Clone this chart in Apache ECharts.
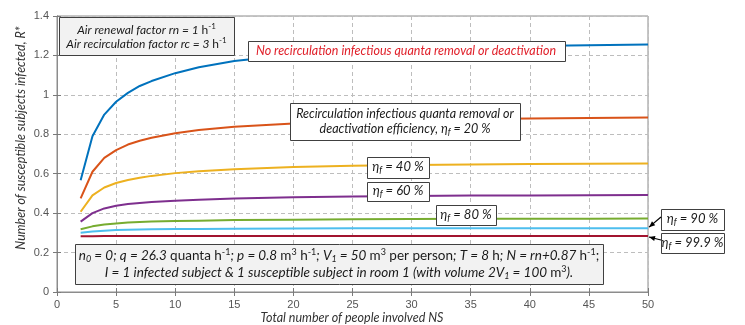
<!DOCTYPE html>
<html><head><meta charset="utf-8">
<script src="https://cdn.jsdelivr.net/npm/echarts@6/dist/echarts.min.js"></script>
<style>html,body{margin:0;padding:0;background:#fff}#c{width:745px;height:325px}</style>
</head><body><div id="c"></div>
<script>
// ---- data ----
const ns = [2,3,4,5,6,7,8,10,12,15,20,25,30,35,40,45,50];
const rNoRecirc = [0.567,0.79,0.90,0.965,1.01,1.045,1.07,1.11,1.14,1.172,1.203,1.222,1.234,1.242,1.248,1.252,1.256];
const rEta20 = [0.475,0.61,0.68,0.72,0.748,0.767,0.782,0.805,0.822,0.838,0.855,0.865,0.872,0.877,0.88,0.883,0.885];
const rEta40 = [0.407,0.49,0.53,0.553,0.568,0.58,0.589,0.603,0.613,0.623,0.634,0.640,0.644,0.647,0.649,0.651,0.652];
const rEta60 = [0.357,0.40,0.424,0.437,0.446,0.452,0.456,0.463,0.468,0.474,0.48,0.484,0.487,0.489,0.49,0.491,0.492];
const rEta80 = [0.318,0.333,0.342,0.348,0.352,0.355,0.357,0.36,0.362,0.365,0.367,0.369,0.370,0.371,0.372,0.372,0.373];
const rEta90 = [0.301,0.307,0.311,0.314,0.316,0.317,0.318,0.319,0.320,0.321,0.322,0.323,0.323,0.324,0.324,0.324,0.324];
const rEta999 = [0.283,0.283,0.284,0.284,0.284,0.284,0.284,0.284,0.284,0.284,0.284,0.284,0.284,0.284,0.284,0.284,0.284];
const xTicks = [0,5,10,15,20,25,30,35,40,45,50];
const yTicks = [0,0.2,0.4,0.6,0.8,1,1.2,1.4];

const seriesList = [
  {name:'no', data:rNoRecirc, color:'#0072BD'},
  {name:'20', data:rEta20, color:'#D95319'},
  {name:'40', data:rEta40, color:'#EDB120'},
  {name:'60', data:rEta60, color:'#7E2F8E'},
  {name:'80', data:rEta80, color:'#77AC30'},
  {name:'90', data:rEta90, color:'#4DBEEE'},
  {name:'99.9', data:rEta999, color:'#A2142F'}
];

const FF = 'Lato, "Open Sans", sans-serif';
const LF = '"Liberation Sans", Arial, sans-serif';
const chart = echarts.init(document.getElementById('c'), null, {renderer:'canvas'});

function rich(fs, color){
  const lh = fs + 6;
  return {
    i:{fontStyle:'italic', fontSize:fs, fontFamily:FF, color:color, lineHeight:lh},
    n:{fontStyle:'normal', fontSize:fs, fontFamily:FF, color:color, lineHeight:lh},
    sb:{fontStyle:'italic', fontSize:Math.round(fs*0.7), fontFamily:FF, color:color, padding:[Math.round(fs*0.55),0,0,0], lineHeight:lh},
    sp:{fontStyle:'normal', fontSize:Math.round(fs*0.7), fontFamily:FF, color:color, padding:[0,0,Math.round(fs*0.6),0], lineHeight:lh}
  };
}
function textEl(x, y, str, fs, color){
  return {type:'text', z:20, x:x, y:y, style:{text:str, rich:rich(fs,color||'#1a1a1a'), align:'center', verticalAlign:'middle', fontFamily:FF, fontSize:fs, fill:color||'#1a1a1a'}};
}
function boxEl(x1,y1,x2,y2,fill){
  return {type:'rect', z:19, shape:{x:x1+0.5,y:y1+0.5,width:x2-x1,height:y2-y1}, style:{fill:fill, stroke:'#404040', lineWidth:1}};
}
const axisCommon = {
  axisLine:{show:true, lineStyle:{color:'#8c8c8c'}},
  axisTick:{show:true, inside:true, length:4, lineStyle:{color:'#7a7a7a'}}
};
const mirror = {
  axisLine:{show:true, lineStyle:{color:'#8c8c8c'}},
  axisTick:{show:true, inside:true, length:4, lineStyle:{color:'#7a7a7a'}},
  axisLabel:{show:false}, splitLine:{show:false}
};

const option = {
  animation:false,
  grid:{left:57, right:97, top:16, bottom:33, show:true, borderColor:'#8c8c8c', borderWidth:1, backgroundColor:'transparent'},
  xAxis:[Object.assign({type:'value', min:0, max:50, interval:5, position:'bottom',
    axisLabel:{color:'#555', fontSize:11, fontFamily:LF, margin:7},
    splitLine:{show:true, lineStyle:{color:'#bdbdbd', type:[4,3], width:1}}}, axisCommon),
    Object.assign({type:'value', min:0, max:50, interval:5, position:'top'}, mirror)],
  yAxis:[Object.assign({type:'value', min:0, max:1.4, interval:0.2, position:'left',
    axisLabel:{color:'#555', fontSize:11, fontFamily:LF, margin:8,
      formatter:v=>{const t=yTicks.find(k=>Math.abs(k-v)<1e-9); return t===undefined?'':String(t);}},
    splitLine:{show:true, lineStyle:{color:'#bdbdbd', type:[4,3], width:1}}}, axisCommon),
    Object.assign({type:'value', min:0, max:1.4, interval:0.2, position:'right'}, mirror)],
  series: seriesList.map(s=>({type:'line', name:s.name, xAxisIndex:0, yAxisIndex:0, data:ns.map((x,i)=>[x,s.data[i]]), showSymbol:false, symbol:'none',
    lineStyle:{color:s.color, width:2}, itemStyle:{color:s.color}, z:3}))
};
chart.setOption(option);

const end = v => chart.convertToPixel({xAxisIndex:0, yAxisIndex:0}, [50, v]);
const p90 = end(rEta90[rEta90.length-1]);
const p999 = end(rEta999[rEta999.length-1]);

const eta = v => '{i|η}{sb|f}{i| = ' + v + ' %}';
const graphics = [
  // axis titles
  {type:'text', z:20, x:21, y:138, rotation:Math.PI/2, style:{text:'Number of susceptible subjects infected, R*', fontFamily:FF, fontStyle:'italic', fontSize:12.5, fill:'#333', align:'center', verticalAlign:'middle'}},
  {type:'text', z:20, x:352, y:318, style:{text:'Total number of people involved NS', fontFamily:FF, fontStyle:'italic', fontSize:12.5, fill:'#333', align:'center', verticalAlign:'middle'}},
  // top-left box
  boxEl(59,17,234,55,'#f2f2f2'),
  textEl(146.5,30,'{i|Air renewal factor rn = 1 }{n|h}{sp|-1}',12),
  textEl(146.5,44,'{i|Air recirculation factor rc = 3 }{n|h}{sp|-1}',12),
  // red box
  boxEl(248,41,565,61,'#ffffff'),
  {type:'text', z:20, x:406, y:51, style:{text:'No recirculation infectious quanta removal or deactivation', fontFamily:FF, fontStyle:'italic', fontSize:12.5, fill:'#e0202a', align:'center', verticalAlign:'middle'}},
  // 20% box
  boxEl(290,103,520,140,'#ffffff'),
  textEl(405,114,'{i|Recirculation infectious quanta removal or}',12.5),
  textEl(405,129,'{i|deactivation efficiency, }' + eta(20),12.5),
  // eta boxes
  boxEl(367,157,429,178,'#ffffff'), textEl(398,167,eta(40),13),
  boxEl(367,182,429,201,'#ffffff'), textEl(398,191,eta(60),13),
  boxEl(436,205,496,225,'#ffffff'), textEl(466,214.5,eta(80),13),
  boxEl(661,209,724,230,'#ffffff'), textEl(692.5,219,eta(90),13),
  boxEl(661,233,724,253,'#ffffff'), textEl(692.5,242.5,eta('99.9'),13),
  // bottom box
  boxEl(75,244,603,284,'#f2f2f2'),
  textEl(339,256,'{i|n}{sb|0}{i| = 0; q = 26.3 }{n|quanta h}{sp|-1}{i|; p = 0.8 }{n|m}{sp|3}{n| h}{sp|-1}{i|; V}{sb|1}{i| = 50 }{n|m}{sp|3}{n| per person}{i|; T = 8 }{n|h}{i|; N = rn+0.87 }{n|h}{sp|-1}{n|;}',13.5),
  textEl(339,273,'{i|I = 1 infected subject & 1 susceptible subject in room 1 (with volume 2V}{sb|1}{i| = 100 }{n|m}{sp|3}{i|).}',13.5),
  // arrows
  {type:'line', z:21, shape:{x1:661, y1:217, x2:p90[0]+1, y2:p90[1]-1}, style:{stroke:'#000', lineWidth:1.2}},
  {type:'line', z:21, shape:{x1:661, y1:240, x2:p999[0]+1, y2:p999[1]+1}, style:{stroke:'#000', lineWidth:1.2}}
];
function head(px, py, fx, fy){
  const a = Math.atan2(py-fy, px-fx), L=6, W=2.5;
  const bx = px - L*Math.cos(a), by = py - L*Math.sin(a);
  return {type:'polygon', z:21, shape:{points:[[px,py],[bx+W*Math.sin(a),by-W*Math.cos(a)],[bx-W*Math.sin(a),by+W*Math.cos(a)]]}, style:{fill:'#000'}};
}
graphics.push(head(p90[0]+1,p90[1]-1,661,217));
graphics.push(head(p999[0]+1,p999[1]+1,661,240));
chart.setOption({graphic:graphics});
</script></body></html>
